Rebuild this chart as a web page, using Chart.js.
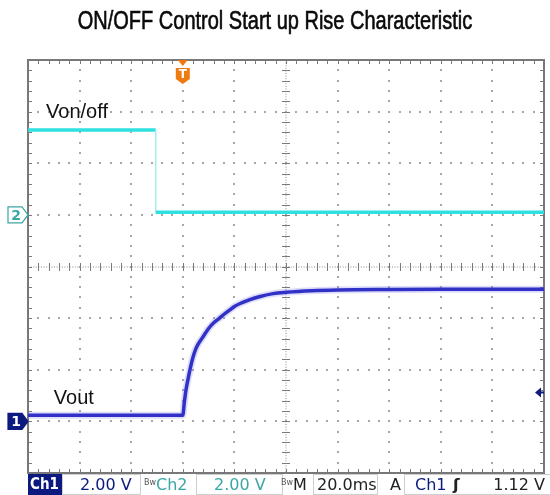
<!DOCTYPE html>
<html lang="en">
<head>
  <meta charset="UTF-8">
  <title>ON/OFF Control Start up Rise Characteristic</title>
  <script src="https://cdn.jsdelivr.net/npm/chart.js"></script>
  <style>
    html, body { margin: 0; padding: 0; background: #fff; }
    #wrap { width: 550px; height: 495px; position: relative; }
  </style>
</head>
<body>
  <div id="wrap">
    <canvas id="scope"></canvas>
  </div>

  <script>
    // scope settings: 20 ms/div, 2 V/div on both channels
    const timeMin = -60, timeMax = 140, timeDiv = 20;
    const voltDiv = 2;
    const titleText = 'ON/OFF Control Start up Rise Characteristic';

    // Ch2 - Von/off (ms, V)
    const vonTime  = [-60, -10.5, -10.5, 140];
    const vonVolts = [3.29, 3.29, 0.1, 0.1];

    // Ch1 - Vout (ms, V)
    const voutTime  = [-60, 0, 0.6, 1.2, 2, 3, 4, 5, 6, 8, 10, 12, 14, 16, 18, 20, 23, 26, 30, 35, 40, 50, 60, 80, 100, 140];
    const voutVolts = [0.24, 0.24, 0.75, 1.2, 1.62, 2.1, 2.5, 2.8, 3.0, 3.3, 3.6, 3.82, 3.98, 4.15, 4.3, 4.45, 4.6, 4.72, 4.84, 4.95, 5.0, 5.06, 5.09, 5.11, 5.12, 5.12];

    // status bar readouts
    const ch1Scale = '2.00 V';
    const ch2Scale = '2.00 V';
    const timeScale = '20.0ms';
    const trigSource = 'Ch1';
    const trigLevel = 1.12;

    const vonPoints = vonTime.map((t, i) => ({ x: t, y: vonVolts[i] }));
    const voutPoints = voutTime.map((t, i) => ({ x: t, y: voutVolts[i] }));

    const navy = '#0c1a80';
    const teal = '#3aa6a6';

    // dotted graticule, drawn from the scales
    const graticule = {
      id: 'graticule',
      beforeDraw(chart) {
        // condensed title (no narrow font installed, so squeeze Liberation Sans)
        const c = chart.ctx;
        c.save();
        c.fillStyle = '#0a0a0a';
        c.strokeStyle = '#0a0a0a';
        c.lineWidth = 0.6;
        c.font = '25px "Liberation Sans", Arial, sans-serif';
        c.textAlign = 'center';
        c.textBaseline = 'middle';
        c.translate(chart.width / 2, 22);
        c.scale(0.8, 1);
        c.fillText(titleText, 0, 0);
        c.strokeText(titleText, 0, 0);
        c.restore();
      },
      beforeDatasetsDraw(chart) {
        const { ctx, chartArea: a, scales: { x, y } } = chart;
        const minorT = timeDiv / 5, minorV = voltDiv / 5;
        const centerT = (timeMin + timeMax) / 2;
        const centerV = (y.min + y.max) / 2;
        ctx.save();
        ctx.fillStyle = '#a8a8a8';
        // vertical major lines
        for (let t = timeMin + timeDiv; t < timeMax; t += timeDiv) {
          if (t === centerT) continue;
          const px = Math.round(x.getPixelForValue(t));
          for (let v = y.min + minorV; v < y.max; v += minorV) {
            ctx.fillRect(px - 1, Math.round(y.getPixelForValue(v)) - 1, 2, 2);
          }
        }
        // horizontal major lines
        for (let v = y.min + voltDiv; v < y.max; v += voltDiv) {
          if (Math.abs(v - centerV) < 0.01) continue;
          const py = Math.round(y.getPixelForValue(v));
          for (let t = timeMin + minorT; t < timeMax; t += minorT) {
            ctx.fillRect(Math.round(x.getPixelForValue(t)) - 1, py - 1, 2, 2);
          }
        }
        // center cross with ticks
        const cx = Math.round(x.getPixelForValue(centerT));
        const cy = Math.round(y.getPixelForValue(centerV));
        ctx.fillStyle = '#8a8a8a';
        for (let py = a.top; py < a.bottom; py += 2.6) ctx.fillRect(cx - 0.5, py, 1, 1);
        for (let px = a.left; px < a.right; px += 2.6) ctx.fillRect(px, cy - 0.5, 1, 1);
        ctx.strokeStyle = '#7a7a7a';
        ctx.lineWidth = 1;
        ctx.beginPath();
        for (let v = y.min + minorV; v < y.max; v += minorV) {
          const py = Math.round(y.getPixelForValue(v)) + 0.5;
          ctx.moveTo(cx - 4, py); ctx.lineTo(cx + 4, py);
        }
        for (let t = timeMin + minorT; t < timeMax; t += minorT) {
          const px = Math.round(x.getPixelForValue(t)) + 0.5;
          ctx.moveTo(px, cy - 4); ctx.lineTo(px, cy + 4);
        }
        // ticks on the frame
        for (let v = y.min + minorV; v < y.max; v += minorV) {
          const py = Math.round(y.getPixelForValue(v)) + 0.5;
          ctx.moveTo(a.left, py); ctx.lineTo(a.left + 4, py);
          ctx.moveTo(a.right, py); ctx.lineTo(a.right - 4, py);
        }
        for (let t = timeMin + minorT; t < timeMax; t += minorT) {
          const px = Math.round(x.getPixelForValue(t)) + 0.5;
          ctx.moveTo(px, a.top); ctx.lineTo(px, a.top + 4);
          ctx.moveTo(px, a.bottom); ctx.lineTo(px, a.bottom - 4);
        }
        ctx.stroke();
        ctx.strokeStyle = '#787878';
        ctx.lineWidth = 2;
        ctx.strokeRect(a.left, a.top, a.right - a.left, a.bottom - a.top);
        ctx.restore();
      },
      afterDraw(chart) {
        const { ctx, chartArea: a, scales: { x, y, y2 } } = chart;
        ctx.save();

        // trace labels
        ctx.fillStyle = '#111';
        ctx.font = '20px "Liberation Sans", Arial, sans-serif';
        ctx.textBaseline = 'middle';
        ctx.textAlign = 'left';
        ctx.fillText('Von/off', x.getPixelForValue(-53), y2.getPixelForValue(3.98));
        ctx.fillText('Vout', x.getPixelForValue(-50), y.getPixelForValue(0.9));

        // channel ground markers
        function chanMarker(py, label, fill, stroke, textColor) {
          ctx.beginPath();
          ctx.moveTo(8, py - 8); ctx.lineTo(22, py - 8); ctx.lineTo(28, py);
          ctx.lineTo(22, py + 8); ctx.lineTo(8, py + 8); ctx.closePath();
          ctx.fillStyle = fill; ctx.fill();
          ctx.strokeStyle = stroke; ctx.lineWidth = 1.2; ctx.stroke();
          ctx.fillStyle = textColor;
          ctx.font = 'bold 14px "DejaVu Sans", sans-serif';
          ctx.textAlign = 'center';
          ctx.fillText(label, 16, py + 1);
        }
        chanMarker(y2.getPixelForValue(0), '2', '#fff', teal, teal);
        chanMarker(y.getPixelForValue(0), '1', navy, navy, '#fff');

        // trigger position marker
        const tx = x.getPixelForValue(0);
        ctx.fillStyle = '#f07a12';
        ctx.beginPath();
        ctx.moveTo(tx - 5, a.top); ctx.lineTo(tx + 5, a.top); ctx.lineTo(tx, a.top + 6); ctx.closePath();
        ctx.fill();
        ctx.beginPath();
        ctx.moveTo(tx - 7, a.top + 8); ctx.lineTo(tx + 7, a.top + 8); ctx.lineTo(tx + 7, a.top + 19);
        ctx.lineTo(tx, a.top + 24); ctx.lineTo(tx - 7, a.top + 19); ctx.closePath();
        ctx.fill();
        ctx.fillStyle = '#fff';
        ctx.font = 'bold 12px "DejaVu Sans", sans-serif';
        ctx.textAlign = 'center';
        ctx.fillText('T', tx, a.top + 15);

        // trigger level arrow
        const ty = y.getPixelForValue(trigLevel);
        ctx.fillStyle = navy;
        ctx.beginPath();
        ctx.moveTo(a.right - 9, ty); ctx.lineTo(a.right - 3, ty - 5); ctx.lineTo(a.right - 3, ty + 5); ctx.closePath();
        ctx.fill();
        ctx.fillRect(a.right - 4, ty - 1, 4, 2);

        // status bar
        const sy = a.bottom + 1, sh = 21, mid = sy + sh / 2 + 1;
        ctx.strokeStyle = '#cfcfcf';
        ctx.lineWidth = 1;
        ctx.strokeRect(62.5, sy + 0.5, 78, sh - 1);
        ctx.strokeRect(196.5, sy + 0.5, 86, sh - 1);
        ctx.strokeRect(313.5, sy + 0.5, 64, sh - 1);
        ctx.strokeRect(404.5, sy + 0.5, 150, sh - 1);
        ctx.fillStyle = navy;
        ctx.fillRect(28, sy, 34, sh);

        ctx.textAlign = 'left';
        ctx.font = 'bold 15px "DejaVu Sans Condensed", "DejaVu Sans", sans-serif';
        ctx.fillStyle = '#fff';
        ctx.fillText('Ch1', 30, mid);
        ctx.font = '16px "DejaVu Sans", sans-serif';
        ctx.fillStyle = navy;
        ctx.fillText(ch1Scale, 80, mid);
        ctx.fillStyle = teal;
        ctx.fillText('Ch2', 156, mid);
        ctx.fillText(ch2Scale, 214, mid);
        ctx.fillStyle = '#222';
        ctx.fillText('M', 293, mid);
        ctx.fillText(timeScale, 317, mid);
        ctx.fillText('A', 390, mid);
        ctx.fillStyle = navy;
        ctx.fillText(trigSource, 415, mid);
        ctx.fillStyle = '#222';
        ctx.font = 'bold 16px "DejaVu Sans", sans-serif';
        ctx.fillText('\u0283', 453, mid);
        ctx.font = '16px "DejaVu Sans", sans-serif';
        ctx.textAlign = 'right';
        ctx.fillText(trigLevel.toFixed(2) + ' V', 545, mid);
        ctx.textAlign = 'left';
        ctx.font = '8px "DejaVu Sans", sans-serif';
        ctx.fillStyle = '#555';
        ctx.fillText('Bw', 144, mid - 3);
        ctx.fillText('Bw', 281, mid - 3);
        ctx.restore();
      }
    };

    const ctx = document.getElementById('scope').getContext('2d');

    const scopeChart = new Chart(ctx, {
      type: 'line',
      data: {
        datasets: [
          {
            label: 'Von/off',
            data: vonPoints,
            yAxisID: 'y2',
            borderColor: '#2ee0e0',
            borderWidth: 3.5,
            pointRadius: 0,
            segment: {
              // the falling edge is faint on the scope
              borderWidth: c => c.p0.parsed.x === c.p1.parsed.x ? 1 : undefined,
              borderColor: c => c.p0.parsed.x === c.p1.parsed.x ? '#a6eeee' : undefined
            }
          },
          {
            label: 'Vout halo',
            data: voutPoints,
            yAxisID: 'y',
            borderColor: 'rgba(120,120,235,0.25)',
            borderWidth: 7,
            pointRadius: 0,
            cubicInterpolationMode: 'monotone'
          },
          {
            label: 'Vout',
            data: voutPoints,
            yAxisID: 'y',
            borderColor: '#1a1abc',
            borderWidth: 3.5,
            pointRadius: 0,
            cubicInterpolationMode: 'monotone'
          }
        ]
      },
      options: {
        responsive: true,
        maintainAspectRatio: false,
        animation: false,
        layout: { padding: { left: 28, right: 6, top: 60, bottom: 22 } },
        scales: {
          x: { type: 'linear', min: timeMin, max: timeMax, display: false },
          y: { min: -2, max: 14, display: false },
          y2: { min: -10, max: 6, display: false }
        },
        plugins: {
          legend: { display: false },
          tooltip: { enabled: false },
          title: { display: false }
        }
      },
      plugins: [graticule]
    });
  </script>
</body>
</html>
